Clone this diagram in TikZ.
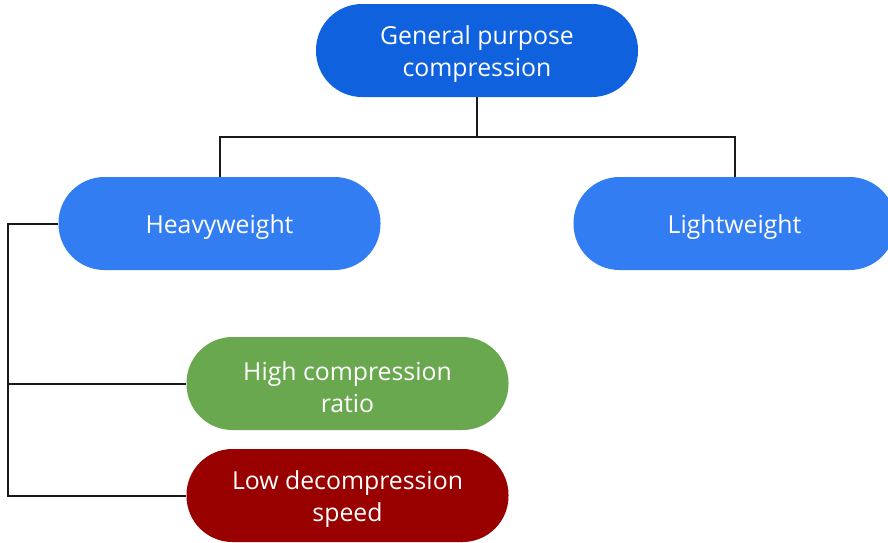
\documentclass[tikz,border=0pt]{standalone}
\usepackage{fontspec}
\setmainfont{Open Sans}
\definecolor{topblue}{HTML}{1061DD}
\definecolor{midblue}{HTML}{327DF2}
\definecolor{greenbox}{HTML}{6AA84F}
\definecolor{redbox}{HTML}{990000}
\definecolor{linec}{HTML}{1A1A1A}
\begin{document}
\begin{tikzpicture}[x=1pt,y=-1pt,
  pill/.style={rounded corners=46pt, minimum width=322pt, minimum height=93pt,
    inner sep=0pt},
  lbl/.style={text=white, align=center, inner sep=0pt, yshift=-4pt,
    font=\fontsize{24.8}{32}\selectfont},
  conn/.style={draw=linec, line width=2pt}]
\useasboundingbox (0,0) rectangle (888,542);
\begin{scope}
\clip (0,0) rectangle (888,542);
\node[pill, fill=topblue, label={[lbl]center:General purpose\\compression}] (top) at (477,50.5) {};
\node[pill, fill=midblue, label={[lbl]center:Heavyweight}] (heavy) at (219.5,223.5) {};
\node[pill, fill=midblue, label={[lbl]center:Lightweight}] (light) at (734.5,223.5) {};
\node[pill, fill=greenbox, label={[lbl]center:High compression\\ratio}] (green) at (347.5,383.5) {};
\node[pill, fill=redbox, label={[lbl]center:Low decompression\\speed}] (red) at (347.5,495.5) {};
\end{scope}
\coordinate (j) at (477,137);
\coordinate (l) at (8,223.5);
\draw[conn] (top.south) -- (j);
\draw[conn] (heavy.north) -- (heavy.north |- j) -- (light.north |- j) -- (light.north);
\draw[conn] (heavy.west) -- (l) |- (red.west);
\draw[conn] (green.west) -- (green.west -| l);
\end{tikzpicture}
\end{document}
